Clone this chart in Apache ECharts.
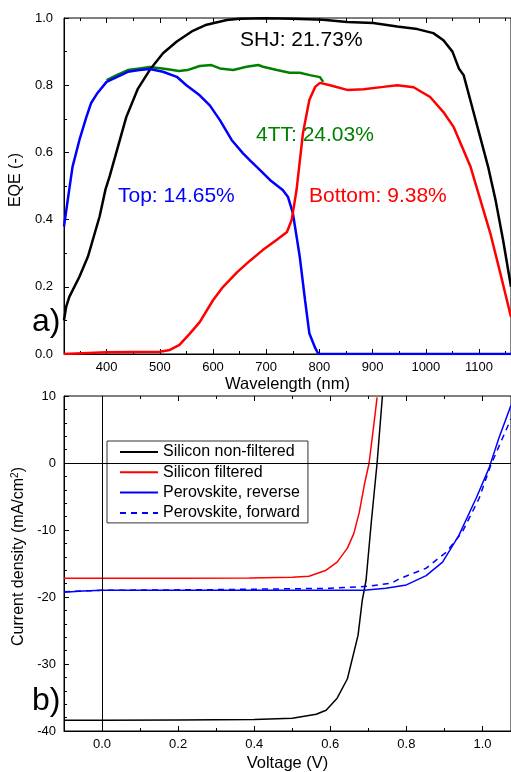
<!DOCTYPE html>
<html>
<head>
<meta charset="utf-8">
<script src="https://cdn.jsdelivr.net/npm/echarts@6/dist/echarts.min.js"></script>
<style>
  html, body { margin: 0; padding: 0; background: #fff; }
  #main { width: 511px; height: 772px; }
</style>
</head>
<body>
<div id="main"></div>
<script>
var myChart = echarts.init(document.getElementById("main"));

var FONT = "Liberation Sans, Arial, sans-serif";

// ---- a) EQE spectra ----
var shjWl = [320, 324, 330, 349, 365, 387, 398, 406, 437, 459, 481, 506, 532, 560, 588, 626, 650, 700, 750, 807, 852, 901, 946, 984, 1014, 1033, 1050, 1062, 1071, 1087, 1102, 1117, 1131, 1145, 1160];
var shjEqe = [0.10, 0.14, 0.17, 0.23, 0.29, 0.41, 0.49, 0.53, 0.705, 0.79, 0.845, 0.895, 0.93, 0.96, 0.98, 0.994, 0.998, 0.999, 0.998, 0.995, 0.988, 0.985, 0.975, 0.967, 0.955, 0.934, 0.90, 0.85, 0.83, 0.735, 0.646, 0.557, 0.458, 0.34, 0.20];

var topWl = [320, 327, 336, 349, 362, 371, 383, 400, 419, 440, 462, 481, 506, 532, 550, 575, 594, 613, 635, 656, 669, 688, 707, 731, 741, 750, 763, 773, 781, 792, 798, 1160];
var topEqe = [0.38, 0.458, 0.557, 0.637, 0.705, 0.747, 0.777, 0.81, 0.824, 0.84, 0.845, 0.848, 0.84, 0.825, 0.80, 0.77, 0.74, 0.696, 0.637, 0.598, 0.577, 0.548, 0.518, 0.488, 0.467, 0.42, 0.29, 0.16, 0.062, 0.018, 0.0, 0.0];

var ttWl = [400, 419, 440, 462, 481, 512, 536, 552, 575, 597, 613, 638, 663, 685, 694, 720, 744, 763, 782, 801, 807];
var ttEqe = [0.815, 0.83, 0.845, 0.85, 0.854, 0.848, 0.842, 0.845, 0.857, 0.86, 0.85, 0.845, 0.855, 0.86, 0.855, 0.845, 0.837, 0.837, 0.83, 0.824, 0.81];

var botWl = [320, 400, 500, 519, 537, 556, 575, 600, 619, 645, 669, 694, 720, 739, 748, 757, 769, 781, 792, 801, 820, 852, 883, 920, 946, 977, 1008, 1033, 1052, 1065, 1084, 1097, 1121, 1140, 1160];
var botEqe = [0.0, 0.005, 0.007, 0.012, 0.027, 0.06, 0.095, 0.16, 0.2, 0.243, 0.277, 0.31, 0.34, 0.363, 0.40, 0.488, 0.657, 0.756, 0.795, 0.807, 0.80, 0.786, 0.788, 0.795, 0.80, 0.794, 0.765, 0.72, 0.676, 0.628, 0.557, 0.488, 0.36, 0.24, 0.11];

// ---- b) J-V curves ----
var siV = [-0.1, 0.0, 0.2, 0.4, 0.5, 0.563, 0.589, 0.618, 0.645, 0.673, 0.684, 0.694, 0.708, 0.723, 0.737];
var siJ = [-38.4, -38.4, -38.35, -38.3, -38.1, -37.5, -36.9, -35.1, -32.2, -25.7, -20.5, -17.5, -8.7, 0, 10];

var siFV = [-0.1, 0.2, 0.387, 0.5, 0.544, 0.589, 0.618, 0.645, 0.662, 0.676, 0.689, 0.702, 0.715, 0.723];
var siFJ = [-17.2, -17.2, -17.15, -17.05, -16.9, -16.0, -14.8, -12.7, -10.5, -7.4, -3.4, 0, 6.0, 9.8];

var pvRevV = [-0.1, -0.05, 0.0, 0.2, 0.4, 0.6, 0.689, 0.746, 0.8, 0.852, 0.895, 0.938, 0.983, 1.017, 1.043, 1.075];
var pvRevJ = [-19.3, -19.1, -19.0, -19.0, -19.0, -19.0, -19.0, -18.7, -18.2, -16.8, -14.8, -10.8, -5.3, -0.8, 3.7, 8.6];

var pvFwdV = [-0.1, 0.0, 0.3, 0.6, 0.7, 0.762, 0.781, 0.852, 0.905, 0.947, 0.991, 1.022, 1.048, 1.075];
var pvFwdJ = [-19.2, -19.0, -18.9, -18.7, -18.4, -17.9, -17.3, -15.7, -13.3, -10.3, -5.3, -0.3, 3.1, 6.6];

var legendNames = ["Silicon non-filtered", "Silicon filtered", "Perovskite, reverse", "Perovskite, forward"];

// axis scales (shared by the main axes and the tick strips)
var wlScale = { min: 320, max: 1160, minInterval: 100, maxInterval: 100, splitNumber: 8 };
var eqeScale = { min: 0, max: 1, interval: 0.2 };
var vScale = { min: -0.1, max: 1.075, minInterval: 0.2, maxInterval: 0.2, splitNumber: 6 };
var jScale = { min: -40, max: 10, interval: 10 };

function pairs(xs, ys) {
  return xs.map(function (x, i) { return [x, ys[i]]; });
}

// label only the round ticks, not the axis ends
function wlLabel(v) {
  return Math.abs(v % 100) < 1e-6 ? String(v) : "";
}
function voltLabel(v) {
  var k = v / 0.2;
  return (v > -1e-6 && Math.abs(k - Math.round(k)) < 1e-6) ? v.toFixed(1) : "";
}

var tickLabel = { color: "#000", fontSize: 13, fontFamily: FONT };
var PL = 64, PW = 447;
var panelA = { top: 18, height: 336 };
var panelB = { top: 396, height: 335 };

var grids = [
  { left: PL, top: panelA.top, width: PW, height: panelA.height, show: true, borderColor: "#000", borderWidth: 1, backgroundColor: "transparent", outerBoundsMode: "none" },
  { left: PL, top: panelB.top, width: PW, height: panelB.height, show: true, borderColor: "#000", borderWidth: 1, backgroundColor: "transparent", outerBoundsMode: "none" }
];

function mainAxis(scale, extra) {
  return Object.assign({
    type: "value",
    axisLine: { show: true, onZero: false, lineStyle: { color: "#000", width: 1 } },
    axisTick: { show: false },
    splitLine: { show: false }
  }, scale, extra);
}

var xAxes = [
  mainAxis(wlScale, {
    gridIndex: 0,
    axisLabel: Object.assign({ margin: 7, formatter: wlLabel }, tickLabel),
    name: "Wavelength (nm)", nameLocation: "middle", nameGap: 22,
    nameTextStyle: { color: "#000", fontSize: 16.5, fontFamily: FONT }
  }),
  mainAxis(vScale, {
    gridIndex: 1,
    axisLabel: Object.assign({ margin: 7, formatter: voltLabel }, tickLabel),
    name: "Voltage (V)", nameLocation: "middle", nameGap: 24,
    nameTextStyle: { color: "#000", fontSize: 16.5, fontFamily: FONT }
  })
];
var yAxes = [
  mainAxis(eqeScale, {
    gridIndex: 0,
    axisLabel: Object.assign({ margin: 11, formatter: function (v) { return v.toFixed(1); } }, tickLabel),
    name: "EQE (-)", nameLocation: "middle", nameGap: 33,
    nameTextStyle: { color: "#000", fontSize: 16, fontFamily: FONT, padding: [0, 0, 0, 12] }
  }),
  mainAxis(jScale, {
    gridIndex: 1,
    axisLabel: Object.assign({ margin: 8 }, tickLabel),
    name: "Current density (mA/cm{sup|2})", nameLocation: "middle", nameGap: 34,
    nameTextStyle: {
      color: "#000", fontSize: 16, fontFamily: FONT, padding: [0, 0, 0, 14],
      rich: { sup: { fontSize: 10, fontFamily: FONT, color: "#000", verticalAlign: "top", padding: [0, 0, 6, 0] } }
    }
  })
];

// inward tick marks: thin strips along the frame whose split lines act as ticks
function hiddenAxis(gi) {
  return { type: "value", gridIndex: gi, show: false, min: 0, max: 1 };
}
function addStrip(rect, dir, scale, minorSplit, minor) {
  var gi = grids.length;
  grids.push(Object.assign({ show: false, outerBoundsMode: "none" }, rect));
  var ax = Object.assign({
    type: "value", gridIndex: gi,
    axisLine: { show: false }, axisTick: { show: false }, axisLabel: { show: false },
    splitLine: { show: !minor, lineStyle: { color: "#000", width: 1 } },
    minorTick: { show: false, splitNumber: minorSplit },
    minorSplitLine: { show: minor, lineStyle: { color: "#000", width: 1 } }
  }, scale);
  if (dir === "x") { xAxes.push(ax); yAxes.push(hiddenAxis(gi)); }
  else { yAxes.push(ax); xAxes.push(hiddenAxis(gi)); }
}
function addFrameTicks(panel, xs, xMinor, ys, yMinor) {
  var bottom = panel.top + panel.height;
  addStrip({ left: PL, top: bottom - 5, width: PW, height: 5 }, "x", xs, xMinor, false);
  addStrip({ left: PL, top: bottom - 3, width: PW, height: 3 }, "x", xs, xMinor, true);
  addStrip({ left: PL, top: panel.top, width: PW, height: 5 }, "x", xs, xMinor, false);
  addStrip({ left: PL, top: panel.top, width: PW, height: 3 }, "x", xs, xMinor, true);
  addStrip({ left: PL, top: panel.top, width: 5, height: panel.height }, "y", ys, yMinor, false);
  addStrip({ left: PL, top: panel.top, width: 3, height: panel.height }, "y", ys, yMinor, true);
}
addFrameTicks(panelA, wlScale, 2, eqeScale, 2);
addFrameTicks(panelB, vScale, 2, jScale, 5);

var option = {
  backgroundColor: "#fff",
  animation: false,
  textStyle: { fontFamily: FONT },
  grid: grids,
  xAxis: xAxes,
  yAxis: yAxes,
  legend: {
    data: legendNames,
    orient: "vertical",
    left: 107,
    top: 441,
    padding: [3, 8, 2, 12],
    itemWidth: 38,
    itemHeight: 14,
    itemGap: 4.3,
    itemStyle: { opacity: 0 },
    backgroundColor: "#fff",
    borderColor: "#333",
    borderWidth: 1,
    borderRadius: 0,
    textStyle: { color: "#000", fontSize: 16, fontFamily: FONT }
  },
  graphic: [
    { type: "text", left: 240, top: 30, style: { text: "SHJ: 21.73%", fill: "#000", font: "21px " + FONT } },
    { type: "text", left: 256, top: 125, style: { text: "4TT: 24.03%", fill: "#008000", font: "21px " + FONT } },
    { type: "text", left: 118, top: 186, style: { text: "Top: 14.65%", fill: "#0000ff", font: "21px " + FONT } },
    { type: "text", left: 309, top: 186, style: { text: "Bottom: 9.38%", fill: "#ff0000", font: "21px " + FONT } },
    { type: "text", left: 32, top: 306, style: { text: "a)", fill: "#000", font: "32px " + FONT } },
    { type: "text", left: 32, top: 685, style: { text: "b)", fill: "#000", font: "32px " + FONT } }
  ],
  series: [
    {
      name: "SHJ", type: "line", xAxisIndex: 0, yAxisIndex: 0, symbol: "none",
      lineStyle: { color: "#000", width: 2.5 }, data: pairs(shjWl, shjEqe), z: 3
    },
    {
      name: "Top", type: "line", xAxisIndex: 0, yAxisIndex: 0, symbol: "none",
      lineStyle: { color: "#0000ff", width: 2.5 }, data: pairs(topWl, topEqe), z: 3
    },
    {
      name: "4TT", type: "line", xAxisIndex: 0, yAxisIndex: 0, symbol: "none",
      lineStyle: { color: "#008000", width: 2.5 }, data: pairs(ttWl, ttEqe), z: 2
    },
    {
      name: "Bottom", type: "line", xAxisIndex: 0, yAxisIndex: 0, symbol: "none",
      lineStyle: { color: "#ff0000", width: 2.5 }, data: pairs(botWl, botEqe), z: 4
    },
    {
      name: legendNames[0], type: "line", xAxisIndex: 1, yAxisIndex: 1, symbol: "none",
      itemStyle: { color: "#000" },
      lineStyle: { color: "#000", width: 1.5 }, data: pairs(siV, siJ),
      markLine: {
        silent: true, symbol: ["none", "none"], label: { show: false },
        lineStyle: { color: "#000", width: 1, type: "solid" },
        data: [{ xAxis: 0 }, { yAxis: 0 }]
      }
    },
    {
      name: legendNames[1], type: "line", xAxisIndex: 1, yAxisIndex: 1, symbol: "none",
      itemStyle: { color: "#ff0000" },
      lineStyle: { color: "#ff0000", width: 1.5 }, data: pairs(siFV, siFJ)
    },
    {
      name: legendNames[2], type: "line", xAxisIndex: 1, yAxisIndex: 1, symbol: "none",
      itemStyle: { color: "#0000ff" },
      lineStyle: { color: "#0000ff", width: 1.5 }, data: pairs(pvRevV, pvRevJ)
    },
    {
      name: legendNames[3], type: "line", xAxisIndex: 1, yAxisIndex: 1, symbol: "none",
      itemStyle: { color: "#0000ff" },
      lineStyle: { color: "#0000ff", width: 1.5, type: [6, 5] }, data: pairs(pvFwdV, pvFwdJ)
    }
  ]
};

myChart.setOption(option);
</script>
</body>
</html>
